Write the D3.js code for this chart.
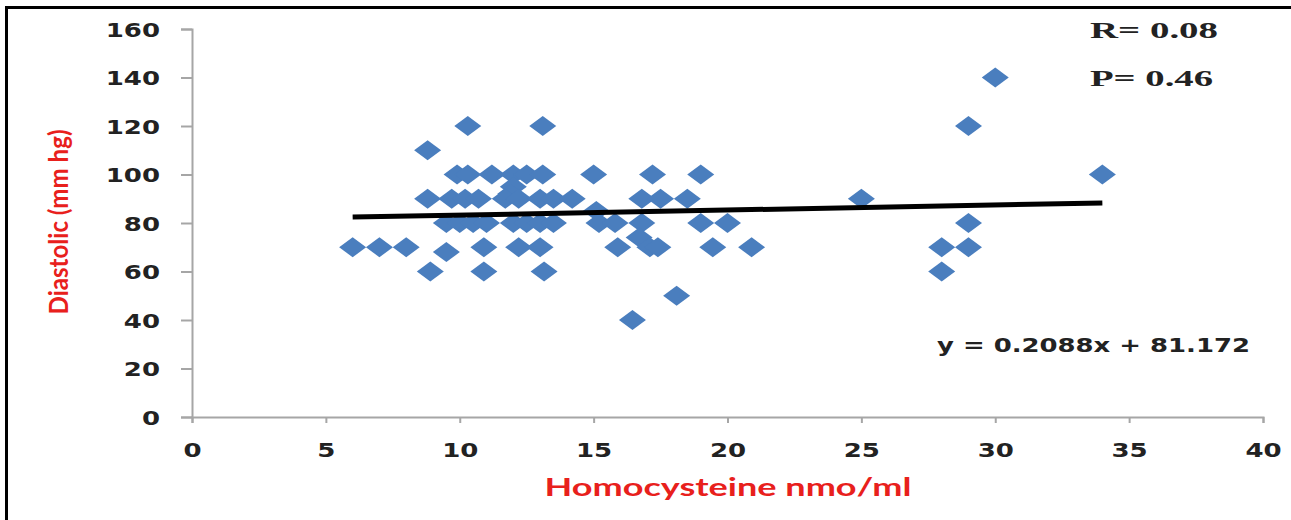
<!DOCTYPE html>
<html>
<head>
<meta charset="utf-8">
<script src="https://cdn.jsdelivr.net/npm/d3@7"></script>
<style>
  html, body { margin: 0; padding: 0; background: #fff; }
  svg { display: block; }
</style>
</head>
<body>
<svg id="chart" width="1291" height="520"></svg>
<script>
// ---- data ----
const homocysteine = [6, 7, 8, 8.8, 8.8, 8.9, 9.5, 10.3, 13.1,
  9.9, 10.3, 11.2, 12.0, 12.5, 13.1, 15, 17.2, 19,
  12.0, 11.9,
  9.7, 10.2, 10.7, 11.7, 12.2, 13.0, 13.5, 14.2, 16.8, 17.5, 18.5,
  15.1,
  9.5, 10.0, 10.5, 11.0, 12.0, 12.5, 13.0, 13.5, 15.2, 15.8, 16.8, 19, 20,
  16.7,
  10.9, 12.2, 13.0, 15.9, 17.1, 17.4, 19.45, 20.9,
  10.9, 13.15,
  18.1, 16.45,
  25, 28, 28, 29, 29, 29, 30, 34];
const diastolic = [70, 70, 70, 110, 90, 60, 68, 120, 120,
  100, 100, 100, 100, 100, 100, 100, 100, 100,
  95, 92,
  90, 90, 90, 90, 90, 90, 90, 90, 90, 90, 90,
  85,
  80, 80, 80, 80, 80, 80, 80, 80, 80, 80, 80, 80, 80,
  74,
  70, 70, 70, 70, 70, 70, 70, 70,
  60, 60,
  50, 40,
  90, 70, 60, 120, 80, 70, 140, 100];
const xTicks = [0, 5, 10, 15, 20, 25, 30, 35, 40];
const yTicks = [0, 20, 40, 60, 80, 100, 120, 140, 160];
const trendSlope = 0.2088;
const trendIntercept = 81.172;
const trendRange = [6, 34];
const statLabels = ["R= 0.08", "P= 0.46"];
const equationLabel = "y = 0.2088x + 81.172";
const xTitle = "Homocysteine nmo/ml";
const yTitle = "Diastolic (mm hg)";

// ---- drawing ----
const svg = d3.select("#chart");
const x = d3.scaleLinear().domain([0, 40]).range([192, 1263]);
const y = d3.scaleLinear().domain([0, 160]).range([417, 29]);
const SX = 1.3; // horizontal stretch of the picture

svg.append("rect").attr("width", 1291).attr("height", 520).attr("fill", "#fff");

// frame (left and top)
svg.append("line").attr("x1", 6.5).attr("x2", 6.5).attr("y1", 6).attr("y2", 520)
  .attr("stroke", "#000").attr("stroke-width", 3);
svg.append("line").attr("x1", 5).attr("x2", 1291).attr("y1", 7.5).attr("y2", 7.5)
  .attr("stroke", "#000").attr("stroke-width", 3);

const axisColor = "#a6a6a6";
const tickFont = "'DejaVu Sans', Verdana, sans-serif";

// y axis
const gy = svg.append("g").attr("transform", "translate(192,0)")
  .call(d3.axisLeft(y).tickValues(yTicks).tickSize(11).tickPadding(0).tickFormat(d3.format("d")));
gy.select(".domain").attr("stroke", axisColor).attr("stroke-width", 2);
gy.selectAll(".tick line").attr("stroke", axisColor).attr("stroke-width", 2);
gy.selectAll(".tick text")
  .attr("x", -32 / SX)
  .attr("dy", "0.36em")
  .attr("transform", `scale(${SX},1)`)
  .style("font-family", tickFont).style("font-weight", "bold").style("font-size", "20px")
  .attr("fill", "#222");

// x axis
const gx = svg.append("g").attr("transform", "translate(0,417)")
  .call(d3.axisBottom(x).tickValues(xTicks).tickSize(6).tickPadding(0).tickFormat(d3.format("d")));
gx.select(".domain").attr("stroke", axisColor).attr("stroke-width", 2);
gx.selectAll(".tick line").attr("stroke", axisColor).attr("stroke-width", 2);
gx.selectAll(".tick text")
  .attr("y", 40).attr("dy", 0)
  .attr("transform", `scale(${SX},1)`)
  .style("font-family", tickFont).style("font-weight", "bold").style("font-size", "20px")
  .attr("fill", "#222");
gx.selectAll(".tick").each(function(d) {
  // re-center the stretched text around the tick
  d3.select(this).select("text").attr("x", 0);
});

// wide diamond symbol
const wideDiamond = {
  draw(context, size) {
    const hw = 13.5, hh = 10;
    context.moveTo(0, -hh);
    context.lineTo(hw, 0);
    context.lineTo(0, hh);
    context.lineTo(-hw, 0);
    context.closePath();
  }
};
const sym = d3.symbol().type(wideDiamond).size(100);

svg.append("g").selectAll("path")
  .data(d3.range(homocysteine.length))
  .join("path")
  .attr("transform", i => `translate(${x(homocysteine[i])},${y(diastolic[i])})`)
  .attr("d", sym)
  .attr("fill", "#4A7EBE");

// trend line
const line = d3.line().x(d => x(d)).y(d => y(trendSlope * d + trendIntercept));
svg.append("path").datum(trendRange).attr("d", line)
  .attr("stroke", "#000").attr("stroke-width", 5).attr("fill", "none");

// annotations
svg.append("text").attr("x", 1090).attr("y", 38).text(statLabels[0])
  .attr("textLength", 128).attr("lengthAdjust", "spacingAndGlyphs")
  .style("font-family", "'Liberation Serif', 'Times New Roman', serif").style("font-weight", "bold")
  .style("font-size", "23px").attr("fill", "#222");
svg.append("text").attr("x", 1090).attr("y", 86).text(statLabels[1])
  .attr("textLength", 123).attr("lengthAdjust", "spacingAndGlyphs")
  .style("font-family", "'Liberation Serif', 'Times New Roman', serif").style("font-weight", "bold")
  .style("font-size", "23px").attr("fill", "#222");
svg.append("text").attr("x", 937).attr("y", 352).text(equationLabel)
  .attr("textLength", 313).attr("lengthAdjust", "spacingAndGlyphs")
  .style("font-family", tickFont).style("font-weight", "bold")
  .style("font-size", "19px").attr("fill", "#222");

// axis titles
svg.append("text").attr("x", 728).attr("y", 496).text(xTitle)
  .attr("text-anchor", "middle")
  .attr("textLength", 367).attr("lengthAdjust", "spacingAndGlyphs")
  .style("font-family", "Lato, 'Open Sans', sans-serif").style("font-weight", "bold")
  .style("font-size", "24px").attr("fill", "#e8201c");

svg.append("text")
  .attr("transform", `translate(68,222) scale(${SX},1) rotate(-90)`)
  .attr("text-anchor", "middle")
  .text(yTitle)
  .attr("textLength", 185).attr("lengthAdjust", "spacingAndGlyphs")
  .style("font-family", "Lato, 'Open Sans', sans-serif").style("font-weight", "bold")
  .style("font-size", "21px").attr("fill", "#e8201c");
</script>
</body>
</html>
